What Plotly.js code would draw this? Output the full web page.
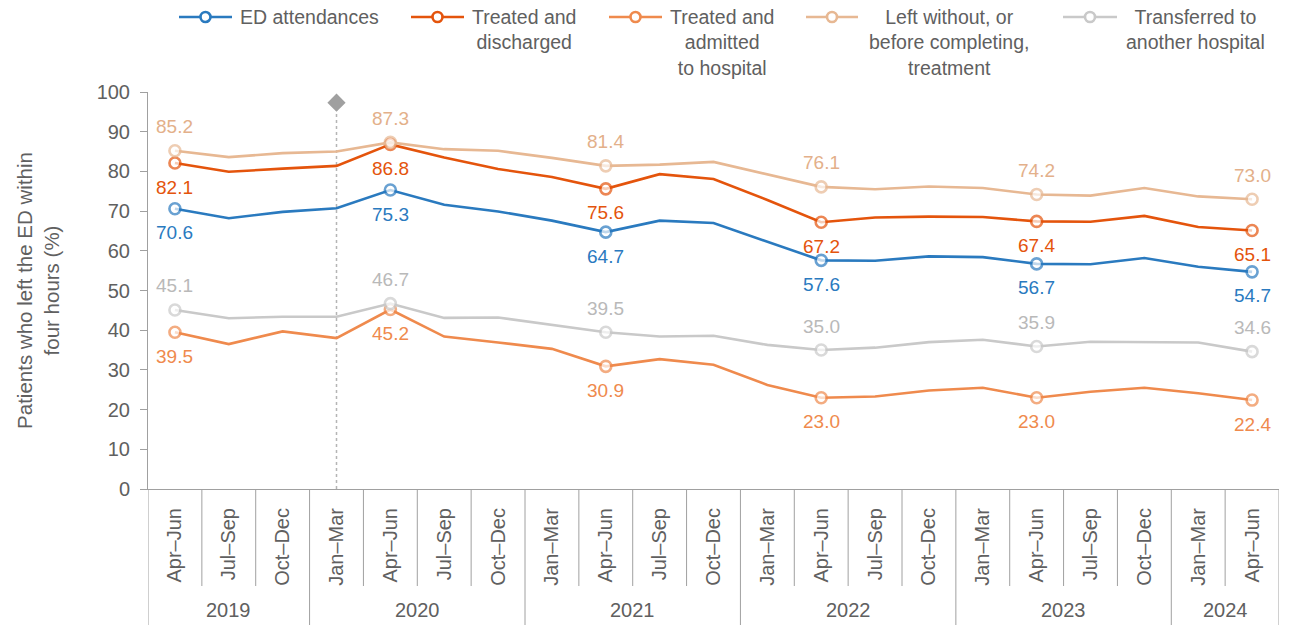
<!DOCTYPE html>
<html>
<head>
<meta charset="utf-8">
<script src="https://cdn.plot.ly/plotly-3.0.1.min.js"></script>
<style>html,body{margin:0;padding:0;background:#fff;}#chart{width:1297px;height:625px;}</style>
</head>
<body>
<div id="chart"></div>
<script>
// ---------- DATA ----------
const quarters = ['Apr–Jun','Jul–Sep','Oct–Dec','Jan–Mar','Apr–Jun','Jul–Sep','Oct–Dec','Jan–Mar','Apr–Jun','Jul–Sep','Oct–Dec','Jan–Mar','Apr–Jun','Jul–Sep','Oct–Dec','Jan–Mar','Apr–Jun','Jul–Sep','Oct–Dec','Jan–Mar','Apr–Jun'];
const years = ['2019','2019','2019','2020','2020','2020','2020','2021','2021','2021','2021','2022','2022','2022','2022','2023','2023','2023','2023','2024','2024'];

const edAttendances      = [70.6,68.2,69.8,70.7,75.3,71.6,69.9,67.6,64.7,67.6,67.0,62.3,57.6,57.5,58.6,58.4,56.7,56.6,58.2,56.0,54.7];
const treatedDischarged  = [82.1,79.9,80.7,81.4,86.8,83.5,80.6,78.6,75.6,79.3,78.1,72.8,67.2,68.4,68.6,68.5,67.4,67.3,68.8,66.0,65.1];
const treatedAdmitted    = [39.5,36.5,39.7,38.0,45.2,38.4,36.9,35.3,30.9,32.7,31.3,26.2,23.0,23.3,24.8,25.5,23.0,24.5,25.5,24.1,22.4];
const leftWithout        = [85.2,83.6,84.6,85.0,87.3,85.6,85.2,83.4,81.4,81.7,82.4,79.2,76.1,75.5,76.2,75.8,74.2,73.9,75.8,73.7,73.0];
const transferred        = [45.1,43.0,43.4,43.4,46.7,43.1,43.2,41.3,39.5,38.4,38.6,36.3,35.0,35.6,37.0,37.6,35.9,37.1,37.0,36.9,34.6];

const seriesNames = ['ED attendances','Treated and<br>discharged','Treated and<br>admitted<br>to hospital','Left without, or<br>before completing,<br>treatment','Transferred to<br>another hospital'];
const labelledPoints = [0,4,8,12,16,20];
const eventIndex = 3;      // Jan–Mar 2020 marker
const eventValue = 97.3;

// ---------- STYLE ----------
const FONT = 'Liberation Sans, Arial, sans-serif';
const TXT = '#606060';
const AX = '#a0a0a0';
const M = {l:148, r:18, t:92, b:136};
const W = 1297, H = 625;
const PW = W - M.l - M.r, PH = H - M.t - M.b;
const px2x = p => (p - M.l) / PW;
const px2y = p => (H - M.b - p) / PH;

const seriesData = [edAttendances, treatedDischarged, treatedAdmitted, leftWithout, transferred];
const colors = ['#2a7abf','#e4540c','#ef8a4d','#e7b893','#c9c9c9'];
const labelColors = ['#2a7abf','#e4540c','#ef8a4d','#e3b08a','#b9b9b9'];
const labelSide = [-1,-1,-1,1,1]; // -1 below, +1 above

const xIdx = quarters.map((q,i)=>i);

const traces = seriesData.map((vals,s)=>({
  type:'scatter', mode:'lines+markers', name:seriesNames[s], showlegend:false,
  x:xIdx, y:vals,
  line:{color:colors[s], width:2.6},
  marker:{symbol:'circle', color:'#ffffff',
    size:xIdx.map(i=>labelledPoints.includes(i)?11:0),
    line:{color:colors[s], width:xIdx.map(i=>labelledPoints.includes(i)?2.6:0)}},
  hoverinfo:'skip'
}));
traces.push({type:'scatter', mode:'markers', x:[eventIndex], y:[eventValue], showlegend:false,
  marker:{symbol:'diamond', size:14, color:'#a0a0a0'}, hoverinfo:'skip'});

const annotations = [];
const shapes = [];

// data labels
seriesData.forEach((vals,s)=>{
  labelledPoints.forEach(i=>{
    annotations.push({x:i, y:vals[i], xref:'x', yref:'y', text:vals[i].toFixed(1), showarrow:false,
      yshift:labelSide[s]*24, font:{family:FONT, size:19, color:labelColors[s]}});
  });
});

// event dashed line
shapes.push({type:'line', xref:'x', yref:'y', x0:eventIndex, x1:eventIndex, y0:0, y1:eventValue,
  line:{color:'#b5b5b5', width:1.5, dash:'dot'}, layer:'below'});

// x-axis dividers and year labels
const quarterDivBottom = px2y(586), yearDivBottom = px2y(625);
for (let b=0; b<=quarters.length; b++){
  const isYear = b===0 || b===quarters.length || years[b]!==years[b-1];
  shapes.push({type:'line', xref:'x', yref:'paper', x0:b-0.5, x1:b-0.5, y0:0, y1:isYear?yearDivBottom:quarterDivBottom,
    line:{color:AX, width:1}});
}
const uniqueYears = [...new Set(years)];
uniqueYears.forEach(y=>{
  const idx = xIdx.filter(i=>years[i]===y);
  const mid = (idx[0]+idx[idx.length-1])/2;
  annotations.push({x:mid, y:px2y(610), xref:'x', yref:'paper', text:y, showarrow:false,
    yanchor:'middle', font:{family:FONT, size:20, color:TXT}});
});

// custom legend
const legendLines = [[179,232],[411,464],[609,662],[806,858],[1063,1117]];
const legendTextCenters = [309,523.5,721.5,948.5,1195];
const legY = 17;
seriesNames.forEach((n,s)=>{
  const [a,b] = legendLines[s];
  shapes.push({type:'line', xref:'paper', yref:'paper', x0:px2x(a), x1:px2x(b), y0:px2y(legY), y1:px2y(legY),
    line:{color:colors[s], width:2.6}});
  const c = (a+b)/2, r=5;
  shapes.push({type:'circle', xref:'paper', yref:'paper', x0:px2x(c-r), x1:px2x(c+r), y0:px2y(legY+r), y1:px2y(legY-r),
    fillcolor:'#ffffff', line:{color:colors[s], width:2.6}});
  annotations.push({xref:'paper', yref:'paper', x:px2x(legendTextCenters[s]), y:px2y(4), xanchor:'center', yanchor:'top',
    text:n, align:'center', showarrow:false, font:{family:FONT, size:19.5, color:TXT}});
});

const layout = {
  width:W, height:H, margin:M, paper_bgcolor:'#fff', plot_bgcolor:'#fff',
  font:{family:FONT, color:TXT, size:20},
  showlegend:false,
  xaxis:{range:[-0.5, quarters.length-0.5], tickvals:xIdx, ticktext:quarters, tickangle:-90,
    showline:true, linecolor:AX, linewidth:1, ticks:'', showgrid:false, zeroline:false,
    ticklabelstandoff:10, tickfont:{family:FONT, size:20, color:TXT}, fixedrange:true},
  yaxis:{range:[0,100], dtick:10, showline:true, linecolor:AX, linewidth:1, ticks:'outside', ticklen:7, tickcolor:AX,
    showgrid:false, zeroline:false, tickfont:{family:FONT, size:20, color:TXT}, ticklabelstandoff:6,
    title:{text:'Patients who left the ED within<br>four hours (%)', standoff:31, font:{family:FONT, size:20.5, color:TXT}}},
  shapes:shapes, annotations:annotations
};

Plotly.newPlot('chart', traces, layout, {displayModeBar:false, staticPlot:true});
</script>
</body>
</html>
